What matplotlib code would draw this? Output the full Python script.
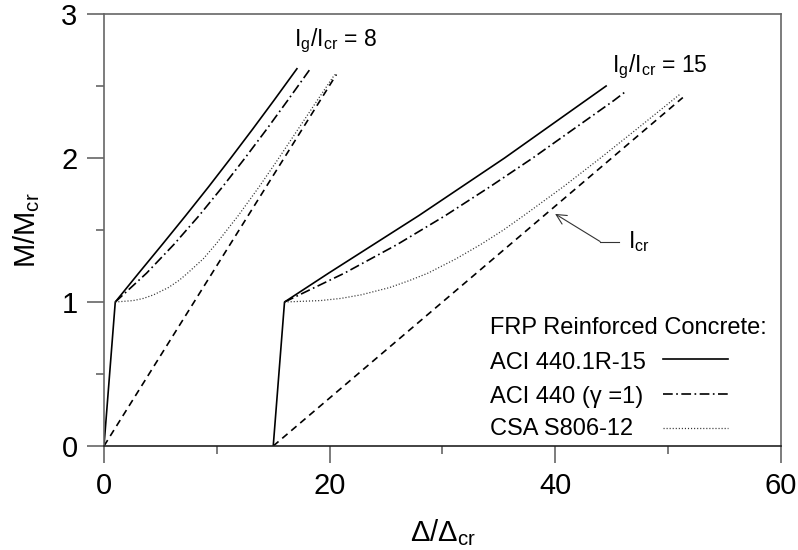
import matplotlib
matplotlib.use('Agg')
import matplotlib.pyplot as plt
from matplotlib.ticker import MultipleLocator

plt.rcParams['font.family'] = ['Liberation Sans', 'DejaVu Sans']
plt.rcParams['mathtext.default'] = 'regular'
plt.rcParams['lines.scale_dashes'] = False

# ---- Ig/Icr = 8 (starts at the origin) ----
aci15_m8 = [0, 1.0, 1.2, 1.4, 1.6, 1.8, 2.0, 2.2, 2.4, 2.62]
aci15_d8 = [0, 1.0, 3.07, 5.17, 7.24, 9.27, 11.24, 13.17, 15.06, 17.1]
gamma1_m8 = [1.0, 1.2, 1.4, 1.6, 1.8, 2.0, 2.2, 2.4, 2.62]
gamma1_d8 = [1.0, 3.77, 6.2, 8.43, 10.51, 12.5, 14.42, 16.28, 18.29]
csa_m8 = [1.0, 1.01, 1.025, 1.05, 1.1, 1.15, 1.2, 1.3, 1.4, 1.5, 1.6, 1.8, 2.0, 2.2, 2.4, 2.58]
csa_d8 = [1.0, 2.6, 3.5, 4.4, 5.7, 6.65, 7.4, 8.8, 9.9, 10.9, 11.9, 13.75, 15.5, 17.2, 18.9, 20.45]
icr_m8 = [0, 2.58]
icr_d8 = [0, 20.6]

# ---- Ig/Icr = 15 (shifted to start at 15) ----
aci15_m15 = [0, 1.0, 1.2, 1.4, 1.6, 1.8, 2.0, 2.2, 2.4, 2.5]
aci15_d15 = [15, 16, 19.9, 23.9, 27.9, 31.7, 35.5, 39.1, 42.7, 44.5]
gamma1_m15 = [1.0, 1.2, 1.4, 1.6, 1.8, 2.0, 2.2, 2.4, 2.46]
gamma1_d15 = [16, 21.3, 26.0, 30.25, 34.2, 38.0, 41.6, 45.2, 46.2]
csa_m15 = [1.0, 1.01, 1.025, 1.05, 1.1, 1.15, 1.2, 1.3, 1.4, 1.5, 1.6, 1.8, 2.0, 2.2, 2.44]
csa_d15 = [16, 19.2, 21.0, 22.8, 25.3, 27.1, 28.7, 31.2, 33.4, 35.4, 37.2, 40.7, 44.0, 47.2, 51.0]
icr_m15 = [0, 2.42]
icr_d15 = [15, 51.3]

legend_labels = ['ACI 440.1R-15', 'ACI 440 (\u03b3 =1)', 'CSA S806-12']

solid = dict(color='black', lw=1.2, ls='-')
dashdot = dict(color='black', lw=1.2, ls=(0, (7, 2.5, 1.2, 2.5)))
dotted = dict(color='#333333', lw=0.9, ls=(0, (0.8, 1.4)))
dashed = dict(color='black', lw=1.2, ls=(0, (5, 3.5)))
styles = [solid, dashdot, dotted]

fig = plt.figure(figsize=(7.98, 5.5), dpi=100)
ax = fig.add_axes([0.1303, 0.1891, 0.8484, 0.7854])

ax.plot(aci15_d8, aci15_m8, **solid)
ax.plot(gamma1_d8, gamma1_m8, **dashdot)
ax.plot(csa_d8, csa_m8, **dotted)
ax.plot(icr_d8, icr_m8, **dashed)

ax.plot(aci15_d15, aci15_m15, **solid)
ax.plot(gamma1_d15, gamma1_m15, **dashdot)
ax.plot(csa_d15, csa_m15, **dotted)
ax.plot(icr_d15, icr_m15, **dashed)

ax.set_xlim(0, 60)
ax.set_ylim(0, 3)
ax.xaxis.set_major_locator(MultipleLocator(20))
ax.xaxis.set_minor_locator(MultipleLocator(10))
ax.yaxis.set_major_locator(MultipleLocator(1))
ax.yaxis.set_minor_locator(MultipleLocator(0.5))
ax.tick_params(which='major', direction='out', length=12, width=1.2,
               color='#666666', pad=7, labelsize=21)
ax.tick_params(which='minor', direction='out', length=6, width=1.2, color='#666666')
for s in ['left', 'top', 'right']:
    ax.spines[s].set_color('#666666')
    ax.spines[s].set_linewidth(1.2)
ax.spines['bottom'].set_color('#222222')
ax.spines['bottom'].set_linewidth(1.2)

ax.set_xlabel('\u0394/\u0394$_{cr}$', fontsize=21, labelpad=12)
ax.set_ylabel('M/M$_{cr}$', fontsize=21, labelpad=14)

# curve labels
ax.text(16.8, 2.775, 'I$_g$/I$_{cr}$ = 8', fontsize=16.5, va='baseline')
ax.text(45.0, 2.60, 'I$_g$/I$_{cr}$ = 15', fontsize=16.5, va='baseline')

# Icr pointer
ax.plot([43.97, 45.66], [1.42, 1.42], color='#333333', lw=0.8)
ax.annotate('', xy=(39.98, 1.612), xytext=(43.97, 1.42),
            arrowprops=dict(arrowstyle='->', color='#333333', lw=0.8,
                            mutation_scale=18, shrinkA=0, shrinkB=0))
ax.text(46.45, 1.372, 'I$_{cr}$', fontsize=16.5, va='baseline')

# legend block
ax.text(0.570, 0.259, 'FRP Reinforced Concrete:', fontsize=17,
        va='baseline', transform=ax.transAxes)
text_y = [0.178, 0.0995, 0.0255]
key_y = [0.2007, 0.1197, 0.041]
for lab, ty, ky, st in zip(legend_labels, text_y, key_y, styles):
    ax.text(0.570, ty, lab, fontsize=17, va='baseline', transform=ax.transAxes)
    ax.plot([0.8257, 0.9217], [ky, ky], transform=ax.transAxes, **st)

fig.savefig('out.png', dpi=100)
